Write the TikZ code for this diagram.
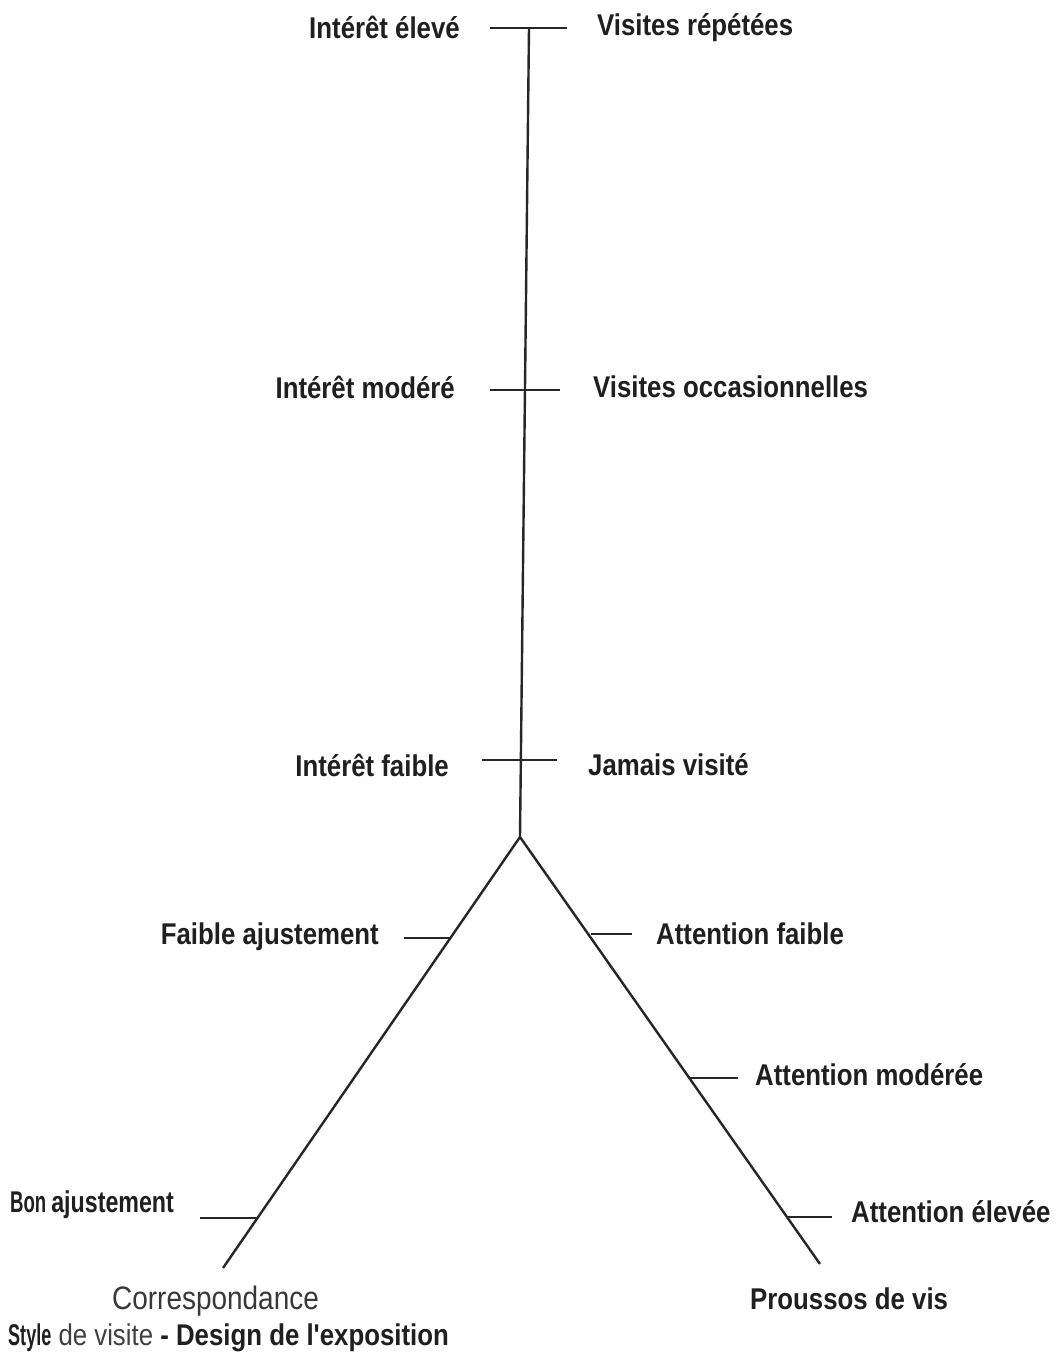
\documentclass[tikz,border=0pt]{standalone}
\usepackage{fontspec}
\usepackage{graphicx}
\newfontfamily\lblfont{Liberation Sans}[FakeStretch=0.86]
\begin{document}
\begin{tikzpicture}[x=1pt,y=-1pt,
  lbl/.style={font=\lblfont\fontsize{30}{34}\selectfont\bfseries, text=black!88, inner sep=0pt},
  lbllight/.style={font=\lblfont\fontsize{32.5}{36}\selectfont, text=black!78, inner sep=0pt},
  axis/.style={line width=2.4pt, black!85},
  tick/.style={line width=2.4pt, black!85}]
\useasboundingbox (0,0) rectangle (1058,1361);
% stem and branches
\coordinate (top) at (529,28);
\coordinate (apex) at (520,837);
\coordinate (lend) at (223,1268);
\coordinate (rend) at (820,1264);
\draw[axis] (top) -- (apex);
\draw[axis] (apex) -- (lend);
\draw[axis] (apex) -- (rend);
% ticks on stem
\coordinate (t1a) at (490,28);  \coordinate (t1b) at (567,28);
\coordinate (t2a) at (490,390); \coordinate (t2b) at (560,390);
\coordinate (t3a) at (482,760); \coordinate (t3b) at (557,760);
\draw[tick] (t1a) -- (t1b);
\draw[tick] (t2a) -- (t2b);
\draw[tick] (t3a) -- (t3b);
% ticks on left branch
\coordinate (l1a) at (404,938); \coordinate (l1b) at (451,938);
\coordinate (l2a) at (200,1218); \coordinate (l2b) at (258,1218);
\draw[tick] (l1a) -- (l1b);
\draw[tick] (l2a) -- (l2b);
% ticks on right branch
\coordinate (r1a) at (591,934); \coordinate (r1b) at (632,934);
\coordinate (r2a) at (690,1078); \coordinate (r2b) at (738,1078);
\coordinate (r3a) at (788,1217); \coordinate (r3b) at (832,1217);
\draw[tick] (r1a) -- (r1b);
\draw[tick] (r2a) -- (r2b);
\draw[tick] (r3a) -- (r3b);
% labels
\node[lbl, anchor=east] (ie) at (460,27) {Intérêt élevé};
\node[lbl, anchor=west] (vr) at (597,28) {Visites répétées};
\node[lbl, anchor=east] (im) at (455,387) {Intérêt modéré};
\node[lbl, anchor=west] (vo) at (593,387) {Visites occasionnelles};
\node[lbl, anchor=east] (if) at (449,765) {Intérêt faible};
\node[lbl, anchor=west] (jv) at (588,765) {Jamais visité};
\node[lbl, anchor=east] (fa) at (379,937) {Faible ajustement};
\node[lbl, anchor=west] (af) at (656,934) {Attention faible};
\node[lbl, anchor=west] (am) at (755,1075) {Attention modérée};
\node[lbl, anchor=west] (ba) at (10,1205) {\scalebox{0.72}[1]{Bon}\,\scalebox{0.9}[1]{ajustement}};
\node[lbl, anchor=west] (ae) at (851,1212) {Attention élevée};
\node[lbllight, anchor=west] (co) at (112,1301) {Correspondance};
\node[lbl, anchor=west] (pv) at (750,1299) {Proussos de vis};
\node[lbl, anchor=west] (sd) at (8,1338) {\scalebox{0.7}[1]{Style}\mdseries\color{black!75}\ de visite \bfseries\color{black!88}- Design de l'exposition};
\end{tikzpicture}
\end{document}
